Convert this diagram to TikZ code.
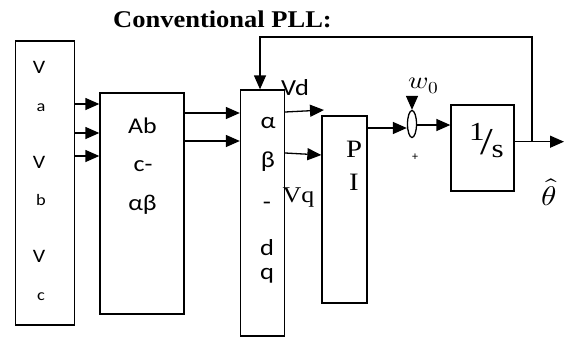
\documentclass[tikz,border=0pt]{standalone}
\usepackage{fontspec}
\usepackage{unicode-math}
\setmainfont{Liberation Serif}
\setsansfont{Carlito}
\usetikzlibrary{arrows.meta,calc,positioning,shapes.geometric}

\tikzset{
  blk/.style={draw,line width=1.3pt,inner sep=0pt},
  sig/.style={-{Triangle[length=14pt,width=12pt]},line width=1.3pt},
  wd/.style={inner sep=0pt,anchor=base,xscale=1.15},
  txt/.style={wd,font=\sffamily\fontsize{22.5}{22.5}\selectfont},
  dqtxt/.style={wd,font=\sffamily\fontsize{23}{23}\selectfont},
  vtxt/.style={wd,font=\sffamily\fontsize{19}{19}\selectfont},
  subtxt/.style={wd,font=\sffamily\fontsize{16}{16}\selectfont},
  sertxt/.style={wd,font=\fontsize{25}{25}\selectfont},
}

\begin{document}
\begin{tikzpicture}[x=1pt,y=-1pt]
    \useasboundingbox (0,0) rectangle (564,337);
    % title
    \node[wd,xscale=0.96,font=\bfseries\fontsize{24}{24}\selectfont] (title) at (222.5,27.3) {Conventional PLL:};

    % blocks
    \node[blk,minimum width=59,minimum height=284] (vabc) at (45.3,183) {};
    \node[blk,minimum width=84,minimum height=221] (abc) at (142,203.5) {};
    \node[blk,minimum width=44,minimum height=246] (dq) at (262.5,213) {};
    \node[blk,minimum width=45,minimum height=187] (pi) at (344.5,209.5) {};
    \node[blk,ellipse,minimum width=9,minimum height=27] (sum) at (412,124) {};
    \node[blk,minimum width=63,minimum height=86] (integ) at (482.5,148) {};

    % Va, Vb, Vc
    \node[vtxt] (va) at (39,74) {V};
    \node[subtxt] (sa) at (41,111) {a};
    \node[vtxt] (vb) at (39,168) {V};
    \node[subtxt] (sb) at (41,205) {b};
    \node[vtxt] (vc) at (39,262) {V};
    \node[subtxt] (sc) at (41,300) {c};

    % abc to alpha beta
    \node[txt] (ab) at (142.5,133) {Ab};
    \node[txt] (cdash) at (143,171.5) {c-};
    \node[txt] (albe) at (142.5,210.5) {αβ};

    % alpha beta to dq
    \node[dqtxt] (al) at (268,128.3) {α};
    \node[dqtxt] (be) at (268,167) {β};
    \node[dqtxt] (hy) at (267,209) {-};
    \node[dqtxt] (dd) at (267,255) {d};
    \node[dqtxt] (qq) at (267,279) {q};

    % PI
    \node[sertxt] (pp) at (354,157) {P};
    \node[sertxt] (ii) at (354,190) {I};

    % 1/s
    \node[inner sep=0pt,anchor=base west,xscale=1.2] (inv) at (469,154.5)
      {\fontsize{26}{26}\selectfont\raisebox{14.5pt}{1}\kern-4pt{\fontsize{38}{38}\selectfont/}\kern-1pt\raisebox{-2.5pt}{s}};

    % signal labels
    \node[wd,font=\sffamily\fontsize{23}{23}\selectfont] (vd) at (295,95) {Vd};
    \node[wd,font=\fontsize{22.5}{22.5}\selectfont] (vq) at (298.5,202) {Vq};
    \node[wd,font=\fontsize{24}{24}\selectfont] (w0) at (423.5,88) {$w_0$};
    \node[font=\sffamily\fontsize{12}{12}\selectfont,inner sep=0pt] (plus) at (415,157) {+};
    \node[wd,font=\fontsize{27}{27}\selectfont] (theta) at (549,205) {$\hat{\theta}$};

    % connections
    \draw[sig] (vabc.east |- 0,104) -- (abc.west |- 0,104);
    \draw[sig] (vabc.east |- 0,133) -- (abc.west |- 0,133);
    \draw[sig] (vabc.east |- 0,156) -- (abc.west |- 0,156);
    \draw[sig] (abc.east |- 0,113) -- (dq.west |- 0,113);
    \draw[sig] (abc.east |- 0,141) -- (dq.west |- 0,141);
    \coordinate (vdend) at (324,110);
    \draw[sig] (dq.east |- 0,112) -- (vdend);
    \draw[sig] (dq.east |- 0,153) -- (pi.west |- 0,155);
    \draw[sig] (pi.east |- 0,128) -- (sum.west |- 0,128);
    \coordinate (w0top) at (412,97);
    \draw[sig] (w0top) -- (sum.north);
    \draw[sig] (sum.east |- 0,125) -- (integ.west |- 0,125);
    \coordinate (out) at (564,141.7);
    \draw[sig] (integ.east |- out) -- (out);
    \coordinate (fb) at (532,141.7);
    \draw[sig] (fb) |- ([xshift=-2.5pt]dq.north |- 0,37) -- ([xshift=-2.5pt]dq.north);
\end{tikzpicture}
\end{document}
